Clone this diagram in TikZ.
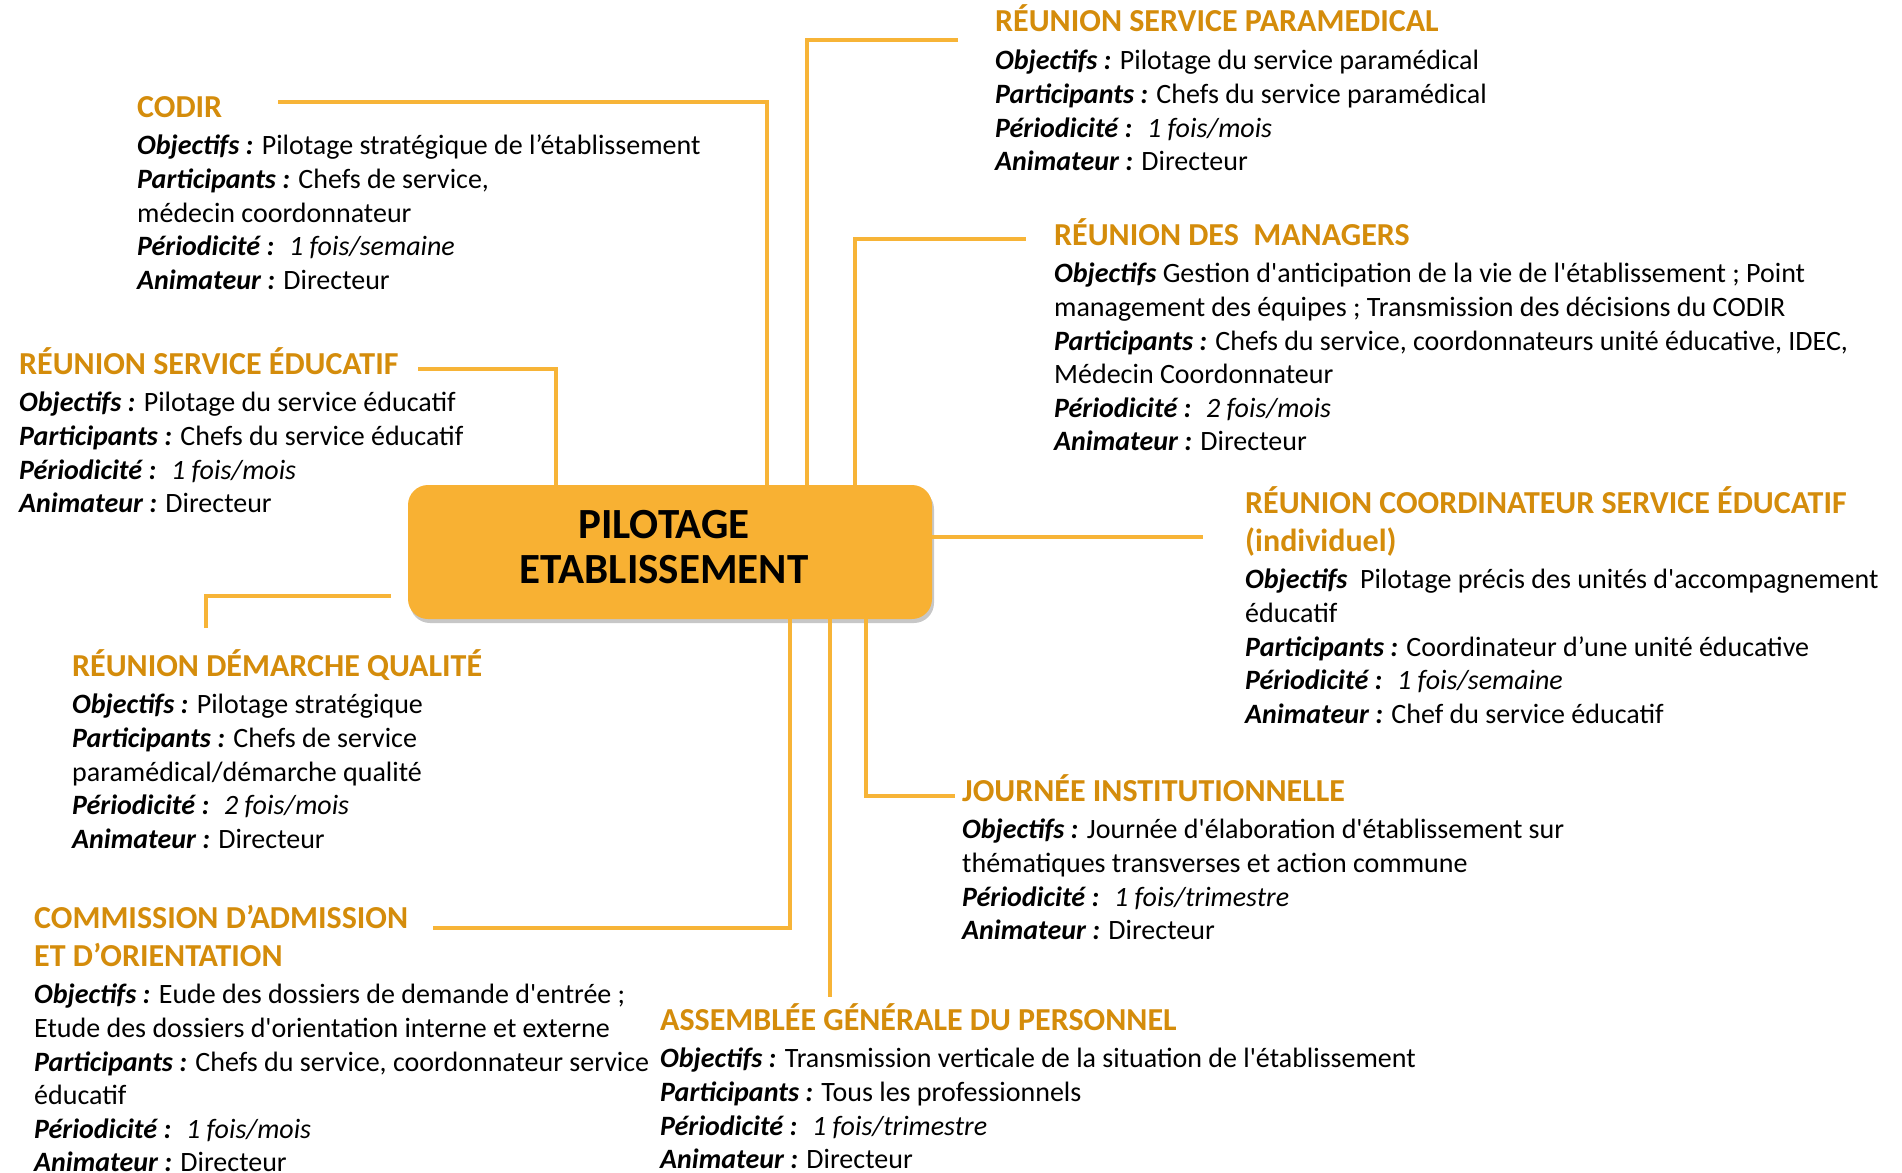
\documentclass[tikz,border=0pt]{standalone}
\usepackage{fontspec}
\setmainfont{Carlito}[Ligatures=TeXOff]
\usetikzlibrary{positioning,shadows}

\definecolor{titre}{RGB}{212,140,11}
\definecolor{trait}{RGB}{247,180,55}
\definecolor{pave}{RGB}{248,177,51}

\newcommand{\champ}[1]{\textbf{\textit{#1}}}

\tikzset{
  ttl/.style={font=\fontsize{32}{38}\selectfont\bfseries, text=titre,
              inner sep=0pt, anchor=base west, align=left},
  corps/.style={font=\fontsize{28}{33.6}\selectfont, inner sep=0pt, align=left},
  lien/.style={draw=trait, line width=3.5pt},
  centre/.style={fill=pave, rounded corners=20pt, minimum width=524pt,
                 minimum height=134pt, inner sep=0pt,
                 drop shadow={shadow xshift=2pt, shadow yshift=-4pt,
                              opacity=0.22, fill=black}},
  centretxt/.style={inner sep=0pt, align=center,
                    font=\fontsize{43}{45}\selectfont\bfseries}
}

\begin{document}
\begin{tikzpicture}[x=1pt, y=-1pt]
  \useasboundingbox (0,0) rectangle (1902,1172);

  \node[centre] (box) at (670,552) {};
  \node[centretxt] (boxtxt) at ([shift={(-6pt,5pt)}]box.center) {PILOTAGE\\ETABLISSEMENT};

  \node[ttl] (codirt)  at (137,117)  {CODIR};
  \node[ttl] (parat)   at (995,32)   {RÉUNION SERVICE PARAMEDICAL};
  \node[ttl] (managt)  at (1054,245) {RÉUNION DES\ \ MANAGERS};
  \node[ttl] (coordt)  at (1245,551) {RÉUNION COORDINATEUR SERVICE ÉDUCATIF\\(individuel)};
  \node[ttl] (journt)  at (962,801)  {JOURNÉE INSTITUTIONNELLE};
  \node[ttl] (assembt) at (660,1030) {ASSEMBLÉE GÉNÉRALE DU PERSONNEL};
  \node[ttl] (caot)    at (34,966)   {COMMISSION D’ADMISSION\\ET D’ORIENTATION};
  \node[ttl] (qualt)   at (72,676)   {RÉUNION DÉMARCHE QUALITÉ};
  \node[ttl] (educt)   at (19,374)   {RÉUNION SERVICE ÉDUCATIF};

  \node[corps] (codir) [below right=18pt and 0pt of codirt.base west]
    {\champ{Objectifs :} Pilotage stratégique de l’établissement\\
     \champ{Participants :} Chefs de service,\\
     médecin coordonnateur\\
     \champ{Périodicité :} \ \textit{1 fois/semaine}\\
     \champ{Animateur :} Directeur};
  \node[corps] (para) [below right=18pt and 0pt of parat.base west]
    {\champ{Objectifs :} Pilotage du service paramédical\\
     \champ{Participants :} Chefs du service paramédical\\
     \champ{Périodicité :} \ \textit{1 fois/mois}\\
     \champ{Animateur :} Directeur};
  \node[corps] (manag) [below right=18pt and 0pt of managt.base west]
    {\champ{Objectifs} Gestion d'anticipation de la vie de l'établissement ; Point\\
     management des équipes ; Transmission des décisions du CODIR\\
     \champ{Participants :} Chefs du service, coordonnateurs unité éducative, IDEC,\\
     Médecin Coordonnateur\\
     \champ{Périodicité :} \ \textit{2 fois/mois}\\
     \champ{Animateur :} Directeur};
  \node[corps] (coord) [below right=18pt and 0pt of coordt.base west]
    {\champ{Objectifs} \ Pilotage précis des unités d'accompagnement\\
     éducatif\\
     \champ{Participants :} Coordinateur d’une unité éducative\\
     \champ{Périodicité :} \ \textit{1 fois/semaine}\\
     \champ{Animateur :} Chef du service éducatif};
  \node[corps] (journ) [below right=18pt and 0pt of journt.base west]
    {\champ{Objectifs :} Journée d'élaboration d'établissement sur\\
     thématiques transverses et action commune\\
     \champ{Périodicité :} \ \textit{1 fois/trimestre}\\
     \champ{Animateur :} Directeur};
  \node[corps] (assemb) [below right=18pt and 0pt of assembt.base west]
    {\champ{Objectifs :} Transmission verticale de la situation de l'établissement\\
     \champ{Participants :} Tous les professionnels\\
     \champ{Périodicité :} \ \textit{1 fois/trimestre}\\
     \champ{Animateur :} Directeur};
  \node[corps] (cao) [below right=18pt and 0pt of caot.base west]
    {\champ{Objectifs :} Eude des dossiers de demande d'entrée ;\\
     Etude des dossiers d'orientation interne et externe\\
     \champ{Participants :} Chefs du service, coordonnateur service\\
     éducatif\\
     \champ{Périodicité :} \ \textit{1 fois/mois}\\
     \champ{Animateur :} Directeur};
  \node[corps] (qual) [below right=18pt and 0pt of qualt.base west]
    {\champ{Objectifs :} Pilotage stratégique\\
     \champ{Participants :} Chefs de service\\
     paramédical/démarche qualité\\
     \champ{Périodicité :} \ \textit{2 fois/mois}\\
     \champ{Animateur :} Directeur};
  \node[corps] (educ) [below right=18pt and 0pt of educt.base west]
    {\champ{Objectifs :} Pilotage du service éducatif\\
     \champ{Participants :} Chefs du service éducatif\\
     \champ{Périodicité :} \ \textit{1 fois/mois}\\
     \champ{Animateur :} Directeur};

  \coordinate (codir-end)  at (278,102);
  \coordinate (para-end)   at (958,40);
  \coordinate (manag-end)  at (1026,239);
  \coordinate (coord-end)  at (1203,537);
  \coordinate (journ-end)  at (955,796);
  \coordinate (assemb-end) at (830,997);
  \coordinate (cao-end)    at (433,928);
  \coordinate (qual-end)   at (206,628);
  \coordinate (educ-end)   at (418,369);

  \draw[lien] (codir-end) -| ([xshift=97pt]box.north);
  \draw[lien] (para-end) -| ([xshift=137pt]box.north);
  \draw[lien] (manag-end) -| ([xshift=185pt]box.north);
  \draw[lien] (educ-end) -| ([xshift=-114pt]box.north);
  \draw[lien] (box.east |- coord-end) -- (coord-end);
  \draw[lien] ([xshift=196pt]box.south) |- (journ-end);
  \draw[lien] (box.south -| assemb-end) -- (assemb-end);
  \draw[lien] (cao-end) -| ([xshift=120pt]box.south);
  \draw[lien] (qual-end) |- ([xshift=-17pt,yshift=-44pt]box.west);
\end{tikzpicture}
\end{document}
